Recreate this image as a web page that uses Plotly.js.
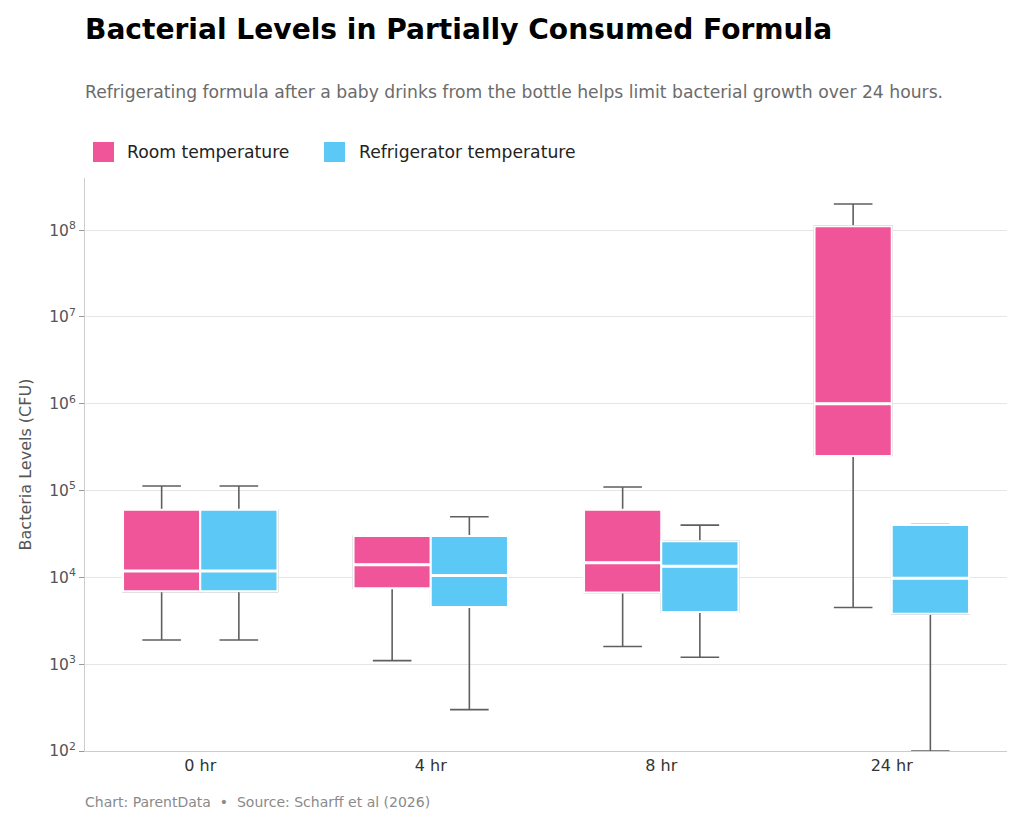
<!DOCTYPE html>
<html>
<head>
<meta charset="utf-8">
<script src="https://cdn.plot.ly/plotly-3.0.1.min.js"></script>
<style>html,body{margin:0;padding:0;background:#fff;}#chart{width:1024px;height:827px;}</style>
</head>
<body>
<div id="chart"></div>
<script>
const categories = ['0 hr', '4 hr', '8 hr', '24 hr'];
const roomLower  = [1900, 1100, 1600, 4500];
const roomQ1     = [6900, 7500, 6700, 250000];
const roomMedian = [11800, 14000, 14700, 1000000];
const roomQ3     = [60000, 30000, 60000, 111000000];
const roomUpper  = [113000, 30000, 110000, 200000000];
const fridgeLower  = [1900, 300, 1200, 100];
const fridgeQ1     = [6900, 4550, 4000, 3800];
const fridgeMedian = [11800, 10500, 13400, 9800];
const fridgeQ3     = [60000, 30000, 26000, 40000];
const fridgeUpper  = [113000, 50000, 40000, 40500];
const seriesNames = ['Room temperature', 'Refrigerator temperature'];
const yExponents = [2, 3, 4, 5, 6, 7, 8];
const yTickVals = yExponents.map(e => Math.pow(10, e));
const yTickText = yExponents.map(e => '10<sup>' + e + '</sup>');

const PINK = '#F0559A', BLUE = '#5BC8F5', WHISK = '#5f5f5f';
const FONT = 'DejaVu Sans, Verdana, sans-serif';

function whiskerTrace(group, lo, q1, med, q3, hi) {
  return {
    type: 'box', x: categories, lowerfence: lo, q1: q1, median: med, q3: q3, upperfence: hi,
    offsetgroup: group, fillcolor: 'rgba(0,0,0,0)', line: {color: WHISK, width: 1.6},
    whiskerwidth: 0.5, showlegend: false, hoverinfo: 'skip', boxpoints: false
  };
}
function fillTrace(group, name, color, q1, med, q3) {
  return {
    type: 'box', x: categories, lowerfence: q1, q1: q1, median: med, q3: q3, upperfence: q3,
    offsetgroup: group, name: name, fillcolor: color, line: {color: '#ffffff', width: 2},
    whiskerwidth: 0, showlegend: false, boxpoints: false
  };
}
function medianTrace(group, med) {
  return {
    type: 'box', x: categories, lowerfence: med, q1: med, median: med, q3: med, upperfence: med,
    offsetgroup: group, fillcolor: 'rgba(0,0,0,0)', line: {color: '#ffffff', width: 3},
    whiskerwidth: 0, showlegend: false, hoverinfo: 'skip', boxpoints: false
  };
}

const data = [
  whiskerTrace('room', roomLower, roomQ1, roomMedian, roomQ3, roomUpper),
  whiskerTrace('fridge', fridgeLower, fridgeQ1, fridgeMedian, fridgeQ3, fridgeUpper),
  fillTrace('room', seriesNames[0], PINK, roomQ1, roomMedian, roomQ3),
  fillTrace('fridge', seriesNames[1], BLUE, fridgeQ1, fridgeMedian, fridgeQ3),
  medianTrace('room', roomMedian),
  medianTrace('fridge', fridgeMedian)
];

// legend drawn as decoration (paper-anchored swatches + labels)
const legendY = (751 - 152) / 573;
const legendItems = [
  {name: seriesNames[0], color: PINK, swatchX: (93 - 85) / 922, textX: (127 - 85) / 922},
  {name: seriesNames[1], color: BLUE, swatchX: (324 - 85) / 922, textX: (359 - 85) / 922}
];
const shapes = legendItems.map(it => ({
  type: 'rect', xref: 'paper', yref: 'paper', xsizemode: 'pixel', ysizemode: 'pixel',
  xanchor: it.swatchX, yanchor: legendY, x0: 0, x1: 21, y0: -10, y1: 10,
  fillcolor: it.color, line: {width: 0}
}));
const legendAnnotations = legendItems.map(it => ({
  text: it.name, xref: 'paper', yref: 'paper', x: it.textX, xanchor: 'left', y: legendY, yanchor: 'middle',
  xshift: -2, showarrow: false, font: {family: FONT, size: 17.2, color: '#222'}
}));

const layout = {
  width: 1024, height: 827,
  margin: {l: 85, r: 17, t: 178, b: 76},
  paper_bgcolor: '#ffffff', plot_bgcolor: '#ffffff',
  font: {family: FONT, color: '#333'},
  showlegend: false,
  boxmode: 'group', boxgap: 0.33, boxgroupgap: 0,
  title: {
    text: '<b>Bacterial Levels in Partially Consumed Formula</b>',
    font: {family: FONT, size: 28.1, color: '#000'},
    x: 0, xref: 'paper', xanchor: 'left',
    y: 1 - 29 / 827, yref: 'container', yanchor: 'middle'
  },
  xaxis: {
    type: 'category', categoryorder: 'array', categoryarray: categories,
    range: [-0.5, 3.5],
    showline: true, linecolor: '#cccccc', linewidth: 1,
    showgrid: false, ticks: '', zeroline: false,
    tickfont: {family: FONT, size: 16, color: '#333'}
  },
  yaxis: {
    type: 'log', range: [2, 8.6],
    tickvals: yTickVals, ticktext: yTickText,
    showline: true, linecolor: '#cccccc', linewidth: 1,
    ticks: 'outside', ticklen: 5, tickcolor: '#999', tickwidth: 1,
    showgrid: true, gridcolor: '#e6e6e6', gridwidth: 1, zeroline: false,
    tickfont: {family: FONT, size: 15.5, color: '#555'},
    title: {text: 'Bacteria Levels (CFU)', font: {family: FONT, size: 16, color: '#555'}, standoff: 13}
  },
  shapes: shapes,
  annotations: legendAnnotations.concat([
    {
      text: 'Refrigerating formula after a baby drinks from the bottle helps limit bacterial growth over 24 hours.',
      xref: 'paper', yref: 'paper', x: 0, xanchor: 'left', y: (751 - 92) / 573, yanchor: 'middle',
      xshift: -2, showarrow: false, font: {family: FONT, size: 17.2, color: '#6b6b6b'}
    },
    {
      text: 'Chart: ParentData  \u2022  Source: Scharff et al (2026)',
      xref: 'paper', yref: 'paper', x: 0, xanchor: 'left', y: (751 - 802) / 573, yanchor: 'middle',
      xshift: -2, showarrow: false, font: {family: FONT, size: 14, color: '#8a8a8a'}
    }
  ])
};

Plotly.newPlot('chart', data, layout, {displayModeBar: false, responsive: false});
</script>
</body>
</html>
